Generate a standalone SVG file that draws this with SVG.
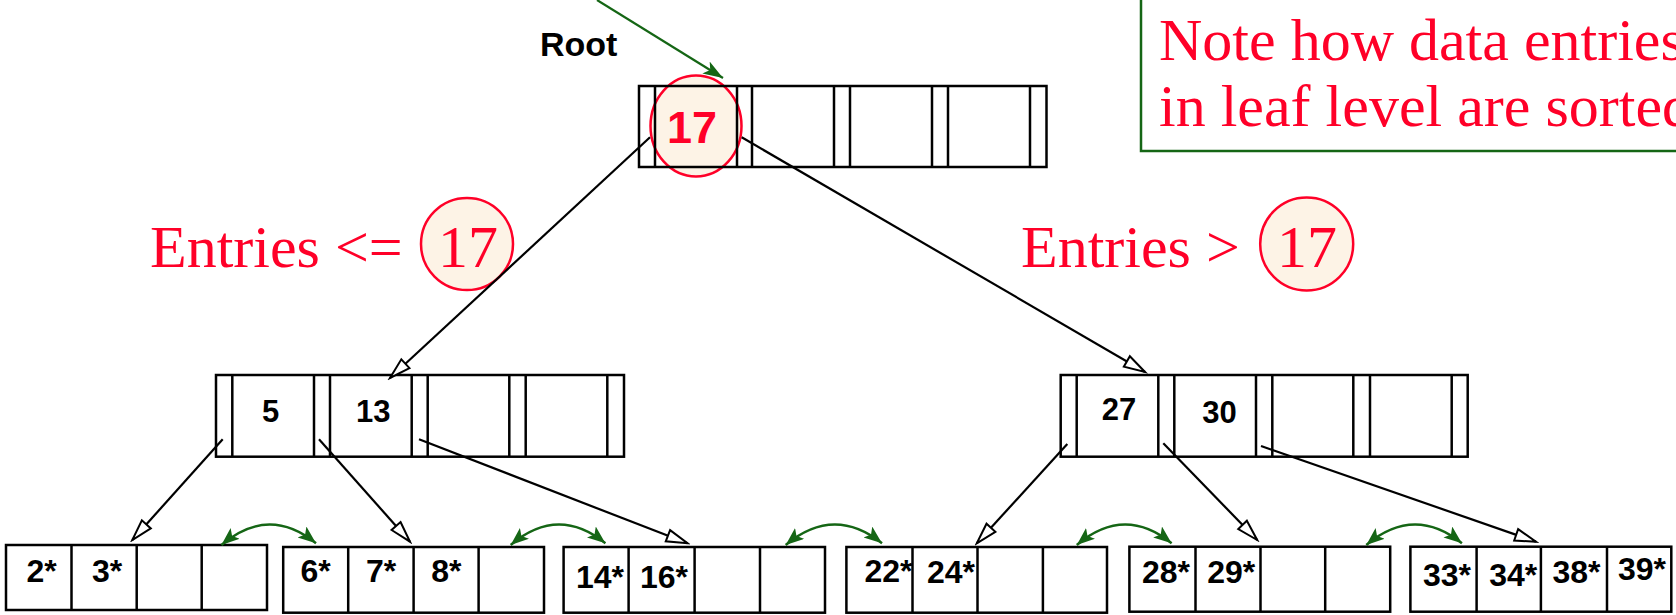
<svg xmlns="http://www.w3.org/2000/svg" width="1676" height="615" viewBox="0 0 1676 615">
<defs>
<style>
.box{fill:none;stroke:#000;stroke-width:2.5}
.sep{stroke:#000;stroke-width:2.5}
.key{font-family:"Liberation Sans",Arial,sans-serif;font-weight:bold;fill:#000;text-anchor:middle}
.leaf{font-size:32px}
.mid{font-size:31px}
.red{font-family:"Liberation Serif","Times New Roman",serif;font-size:60px;fill:#FF0028}
.conn{stroke:#000;stroke-width:2.2;fill:none;marker-end:url(#openArrow)}
.sib{stroke:#156615;stroke-width:2.5;fill:none;marker-start:url(#greenHead);marker-end:url(#greenHead)}
.hl{fill:#FDF3E6;stroke:#FF0028;stroke-width:2.5}
</style>
<marker id="openArrow" markerUnits="userSpaceOnUse" markerWidth="26" markerHeight="18" refX="23" refY="8" orient="auto">
<path d="M2,2 L23,8 L2,14 Z" fill="#fff" stroke="#000" stroke-width="2"/>
</marker>
<marker id="greenArrow" markerUnits="userSpaceOnUse" markerWidth="22" markerHeight="16" refX="20" refY="7" orient="auto">
<path d="M0,0 L20,7 L0,14 L5,7 Z" fill="#156615"/>
</marker>
<marker id="greenHead" markerUnits="userSpaceOnUse" markerWidth="20" markerHeight="16" refX="18" refY="7" orient="auto-start-reverse">
<path d="M0,0 L18,7 L0,14 L4,7 Z" fill="#156615"/>
</marker>
</defs>
<rect x="0" y="0" width="1676" height="615" fill="#fff"/>

<g id="note">
<rect x="1141" y="-5" width="560" height="156" fill="#fff" stroke="#156615" stroke-width="2.5"/>
<text class="red" x="1159" y="60">Note how data entries</text>
<text class="red" x="1159" y="126">in leaf level are sorted</text>
</g>

<g id="root-label">
<text x="540" y="56" font-family="Liberation Sans, Arial, sans-serif" font-weight="bold" font-size="34" fill="#000">Root</text>
</g>

<g id="root">
<ellipse class="hl" cx="696" cy="126" rx="45.5" ry="50.5"/>
<rect class="box" x="639" y="86" width="407.5" height="81"/>
<line class="sep" x1="655" y1="86" x2="655" y2="167"/>
<line class="sep" x1="737" y1="86" x2="737" y2="167"/>
<line class="sep" x1="752" y1="86" x2="752" y2="167"/>
<line class="sep" x1="834" y1="86" x2="834" y2="167"/>
<line class="sep" x1="850" y1="86" x2="850" y2="167"/>
<line class="sep" x1="932" y1="86" x2="932" y2="167"/>
<line class="sep" x1="948" y1="86" x2="948" y2="167"/>
<line class="sep" x1="1030" y1="86" x2="1030" y2="167"/>
<text x="692" y="143" font-family="Liberation Sans, Arial, sans-serif" font-weight="bold" font-size="45" fill="#FF0028" text-anchor="middle">17</text>
</g>

<g id="label-left">
<text class="red" x="150" y="267">Entries &lt;=</text>
<circle class="hl" cx="467" cy="244" r="46"/>
<text class="red" x="468" y="267" text-anchor="middle">17</text>
</g>

<g id="label-right">
<text class="red" x="1021" y="267">Entries &gt;</text>
<circle class="hl" cx="1306.7" cy="244" r="46.5"/>
<text class="red" x="1307" y="267" text-anchor="middle">17</text>
</g>

<g id="mid-left">
<rect class="box" x="216" y="375" width="408" height="81.7"/>
<line class="sep" x1="232.3" y1="375" x2="232.3" y2="456.7"/>
<line class="sep" x1="314" y1="375" x2="314" y2="456.7"/>
<line class="sep" x1="330" y1="375" x2="330" y2="456.7"/>
<line class="sep" x1="411.7" y1="375" x2="411.7" y2="456.7"/>
<line class="sep" x1="427.7" y1="375" x2="427.7" y2="456.7"/>
<line class="sep" x1="509.3" y1="375" x2="509.3" y2="456.7"/>
<line class="sep" x1="525.7" y1="375" x2="525.7" y2="456.7"/>
<line class="sep" x1="607.3" y1="375" x2="607.3" y2="456.7"/>
<text class="key mid" x="270.5" y="422">5</text>
<text class="key mid" x="373.3" y="422">13</text>
</g>

<g id="mid-right">
<rect class="box" x="1060.7" y="375" width="407" height="81.7"/>
<line class="sep" x1="1076.7" y1="375" x2="1076.7" y2="456.7"/>
<line class="sep" x1="1158.3" y1="375" x2="1158.3" y2="456.7"/>
<line class="sep" x1="1174.3" y1="375" x2="1174.3" y2="456.7"/>
<line class="sep" x1="1256" y1="375" x2="1256" y2="456.7"/>
<line class="sep" x1="1272.3" y1="375" x2="1272.3" y2="456.7"/>
<line class="sep" x1="1353.3" y1="375" x2="1353.3" y2="456.7"/>
<line class="sep" x1="1370" y1="375" x2="1370" y2="456.7"/>
<line class="sep" x1="1451.7" y1="375" x2="1451.7" y2="456.7"/>
<text class="key mid" x="1119" y="420">27</text>
<text class="key mid" x="1219.5" y="423">30</text>
</g>

<g id="leaf1">
<rect class="box" x="6" y="545" width="261" height="65"/>
<line class="sep" x1="71.5" y1="545" x2="71.5" y2="610"/>
<line class="sep" x1="136.7" y1="545" x2="136.7" y2="610"/>
<line class="sep" x1="201.7" y1="545" x2="201.7" y2="610"/>
<text class="key leaf" x="41.7" y="582">2*</text>
<text class="key leaf" x="107.2" y="582">3*</text>
</g>

<g id="leaf2">
<rect class="box" x="283.2" y="547" width="260.8" height="65.7"/>
<line class="sep" x1="348.2" y1="547" x2="348.2" y2="612.7"/>
<line class="sep" x1="413.6" y1="547" x2="413.6" y2="612.7"/>
<line class="sep" x1="478.6" y1="547" x2="478.6" y2="612.7"/>
<text class="key leaf" x="315.7" y="582">6*</text>
<text class="key leaf" x="381" y="582">7*</text>
<text class="key leaf" x="446.4" y="582">8*</text>
</g>

<g id="leaf3">
<rect class="box" x="563.6" y="547" width="261.4" height="65.7"/>
<line class="sep" x1="628.6" y1="547" x2="628.6" y2="612.7"/>
<line class="sep" x1="694.6" y1="547" x2="694.6" y2="612.7"/>
<line class="sep" x1="760" y1="547" x2="760" y2="612.7"/>
<text class="key leaf" x="600" y="588">14*</text>
<text class="key leaf" x="664" y="588">16*</text>
</g>

<g id="leaf4">
<rect class="box" x="846.4" y="547" width="260.6" height="65.7"/>
<line class="sep" x1="912.5" y1="547" x2="912.5" y2="612.7"/>
<line class="sep" x1="977.5" y1="547" x2="977.5" y2="612.7"/>
<line class="sep" x1="1042.9" y1="547" x2="1042.9" y2="612.7"/>
<text class="key leaf" x="888.4" y="582">22*</text>
<text class="key leaf" x="951" y="583">24*</text>
</g>

<g id="leaf5">
<rect class="box" x="1129.4" y="546.7" width="260.8" height="65"/>
<line class="sep" x1="1195.5" y1="546.7" x2="1195.5" y2="611.7"/>
<line class="sep" x1="1260.5" y1="546.7" x2="1260.5" y2="611.7"/>
<line class="sep" x1="1325.2" y1="546.7" x2="1325.2" y2="611.7"/>
<text class="key leaf" x="1166" y="583">28*</text>
<text class="key leaf" x="1231.3" y="583">29*</text>
</g>

<g id="leaf6">
<rect class="box" x="1410.4" y="546.7" width="260.9" height="65"/>
<line class="sep" x1="1476.6" y1="546.7" x2="1476.6" y2="611.7"/>
<line class="sep" x1="1540.9" y1="546.7" x2="1540.9" y2="611.7"/>
<line class="sep" x1="1607" y1="546.7" x2="1607" y2="611.7"/>
<text class="key leaf" x="1447" y="586">33*</text>
<text class="key leaf" x="1513.3" y="586">34*</text>
<text class="key leaf" x="1576.5" y="583">38*</text>
<text class="key leaf" x="1642" y="580">39*</text>
</g>

<g id="connectors">
<line x1="597" y1="0" x2="723" y2="78" stroke="#156615" stroke-width="2.2" marker-end="url(#greenArrow)"/>
<line class="conn" x1="650" y1="137.3" x2="390" y2="378"/>
<line class="conn" x1="741.7" y1="137.3" x2="1145" y2="372"/>
<line class="conn" x1="222.7" y1="439.3" x2="132.3" y2="540"/>
<line class="conn" x1="319" y1="439.3" x2="410" y2="541.7"/>
<line class="conn" x1="419" y1="439.3" x2="687.5" y2="543.3"/>
<line class="conn" x1="1067.3" y1="444" x2="976.8" y2="543.3"/>
<line class="conn" x1="1163.3" y1="443.3" x2="1257.2" y2="540"/>
<line class="conn" x1="1261" y1="446" x2="1536" y2="541.7"/>
<path class="sib" d="M221.4,545 Q268.7,505 316,543.3"/>
<path class="sib" d="M510.7,545 Q558,505 605.4,543.3"/>
<path class="sib" d="M785.7,545 Q833.8,505 882,543.3"/>
<path class="sib" d="M1076.8,545 Q1124.2,505 1171.6,543.3"/>
<path class="sib" d="M1366.3,545 Q1414.1,505 1461.9,543.3"/>
</g>
</svg>
